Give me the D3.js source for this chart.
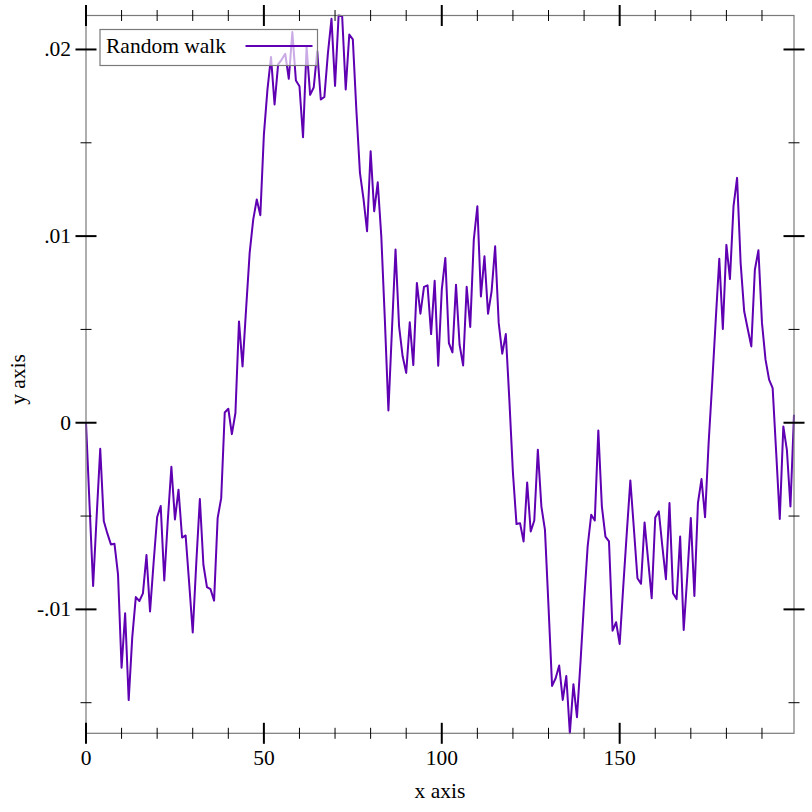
<!DOCTYPE html>
<html><head><meta charset="utf-8">
<script src="https://cdn.jsdelivr.net/npm/d3@7"></script>
<style>body{margin:0;background:#fff}svg text{font-family:"Liberation Serif","DejaVu Serif",serif;fill:#000}</style>
</head><body><svg id="c" width="812" height="812"></svg>
<script>
const walkValues = [0,-0.0044,-0.00875,-0.005,-0.00139,-0.00527,-0.00593,-0.00652,-0.00648,-0.00813,
-0.01313,-0.01021,-0.01486,-0.0115,-0.00934,-0.00955,-0.00914,-0.00709,-0.01011,-0.0075,
-0.00505,-0.00446,-0.00845,-0.0052,-0.00236,-0.00518,-0.00359,-0.00615,-0.00604,-0.0086,
-0.01124,-0.0075,-0.00409,-0.00761,-0.00881,-0.00892,-0.00953,-0.00511,-0.00404,0.00055,
0.00075,-0.00061,0.00052,0.00543,0.00302,0.0061,0.0091,0.01088,0.01196,0.01112,
0.01544,0.01785,0.0196,0.01705,0.0192,0.01946,0.01977,0.01843,0.02093,0.01834,
0.01803,0.0153,0.02015,0.01757,0.01796,0.0199,0.01732,0.01746,0.0198,0.02164,
0.01805,0.02182,0.02178,0.01786,0.0208,0.02054,0.01673,0.01339,0.0120,0.01026,
0.01455,0.01133,0.01288,0.00999,0.00552,0.00066,0.005,0.00928,0.00516,0.00356,
0.00267,0.00538,0.00309,0.00749,0.00584,0.00728,0.00736,0.00475,0.00761,0.00306,
0.00713,0.00883,0.00427,0.00377,0.0074,0.00418,0.00307,0.00728,0.00513,0.00981,
0.0116,0.00677,0.00892,0.00584,0.00704,0.00945,0.00535,0.0037,0.00475,0.0012,
-0.00268,-0.00543,-0.00538,-0.00636,-0.0032,-0.00583,-0.00524,-0.00145,-0.00449,-0.00574,
-0.00985,-0.0141,-0.01369,-0.01301,-0.01485,-0.01357,-0.01664,-0.01401,-0.01578,-0.0128,
-0.00958,-0.00663,-0.00493,-0.00524,-0.00041,-0.00449,-0.0061,-0.00636,-0.01114,-0.01069,
-0.01185,-0.0088,-0.0059,-0.00309,-0.00568,-0.00833,-0.00863,-0.00534,-0.00736,-0.0094,
-0.00508,-0.00475,-0.00663,-0.00838,-0.0043,-0.00913,-0.00945,-0.0061,-0.0111,-0.00824,
-0.00511,-0.00928,-0.0043,-0.00302,-0.00506,-0.0011,0.0021,0.0055,0.00878,0.00502,
0.00953,0.0077,0.0116,0.01312,0.00856,0.00597,0.00502,0.00409,0.0082,0.00924,
0.00535,0.00338,0.00231,0.00186,-0.00162,-0.00516,-0.0002,-0.00145,-0.00449,0.00043];
const xMajorTicks = [0,50,100,150];
const xMinorTicks = [10,20,30,40,60,70,80,90,110,120,130,140,160,170,180,190];
const yMajorTicks = [-0.01,0,0.01,0.02];
const yMajorLabels = ["-.01","0",".01",".02"];
const yMinorTicks = [-0.015,-0.005,0.005,0.015];
const seriesName = "Random walk";
const xTitle = "x axis", yTitle = "y axis";

const svg = d3.select("#c");
const L = 86, R = 794, T = 15.5, B = 733.3;
const FS = 21.5;
const x = d3.scaleLinear().domain([0, walkValues.length - 1]).range([L, R]);
const y = d3.scaleLinear().domain(d3.extent(walkValues)).range([B, T]);
const lineColor = "#5f00b2";

// data line
const line = d3.line().x((d,i)=>x(i)).y(d=>y(d));
svg.append("path").datum(walkValues).attr("d", line)
  .attr("fill","none").attr("stroke",lineColor).attr("stroke-width",2).attr("stroke-linejoin","round");

// frame
const frame = svg.append("g").attr("stroke","#7a7a7a").attr("stroke-width",1.2).attr("fill","none");
frame.append("rect").attr("x",L).attr("y",T).attr("width",R-L).attr("height",B-T);

// ticks
const tk = svg.append("g").attr("stroke","#000");
function hTicks(vals, len, w){
  vals.forEach(v=>{
    const px = x(v);
    [B,T].forEach(yy=>tk.append("line").attr("x1",px).attr("x2",px).attr("y1",yy-len).attr("y2",yy+len).attr("stroke-width",w));
  });
}
function vTicks(vals, len, w){
  vals.forEach(v=>{
    const py = y(v);
    [L,R].forEach(xx=>tk.append("line").attr("y1",py).attr("y2",py).attr("x1",xx-len).attr("x2",xx+len).attr("stroke-width",w));
  });
}
hTicks(xMajorTicks,10.5,2); hTicks(xMinorTicks,5.5,1);
vTicks(yMajorTicks,10.5,2); vTicks(yMinorTicks,5.5,1);

// tick labels
svg.append("g").selectAll("text").data(xMajorTicks).join("text")
  .attr("x",d=>x(d)).attr("y",765).attr("text-anchor","middle").attr("font-size",FS).text(d=>d);
svg.append("g").selectAll("text").data(yMajorTicks).join("text")
  .attr("x",71).attr("y",d=>y(d)+7).attr("text-anchor","end").attr("font-size",FS).text((d,i)=>yMajorLabels[i]);

// titles
svg.append("text").attr("x",(L+R)/2).attr("y",798).attr("text-anchor","middle").attr("font-size",FS).text(xTitle);
svg.append("text").attr("transform",`translate(25,${(T+B)/2+5}) rotate(-90)`).attr("text-anchor","middle").attr("font-size",FS).text(yTitle);

// legend
const lg = svg.append("g");
lg.append("rect").attr("x",100).attr("y",29.5).attr("width",217.5).attr("height",36)
  .attr("fill","#fff").attr("fill-opacity",0.67).attr("stroke","#7a7a7a").attr("stroke-width",1.2);
lg.append("text").attr("x",106).attr("y",53).attr("font-size",FS).text(seriesName);
lg.append("line").attr("x1",245.5).attr("x2",312.5).attr("y1",46).attr("y2",46).attr("stroke",lineColor).attr("stroke-width",2);
</script></body></html>
